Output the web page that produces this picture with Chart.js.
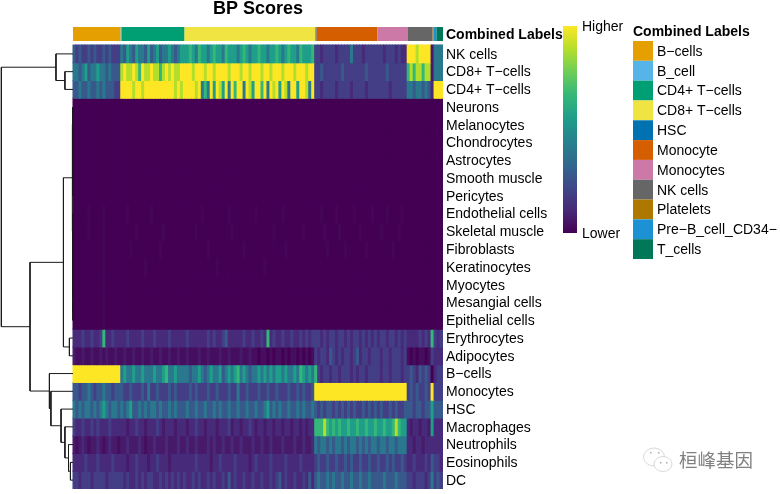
<!DOCTYPE html>
<html>
<head>
<meta charset="utf-8">
<style>
  html, body { margin: 0; padding: 0; background: #fff; }
  #wrap { position: relative; width: 780px; height: 494px; }
</style>
<script src="https://cdn.jsdelivr.net/npm/chart.js@4/dist/chart.umd.js"></script>
</head>
<body>
<div id="wrap"><canvas id="chart" width="780" height="494"></canvas></div>
<script>
const rowLabels = ['NK cells', 'CD8+ T\u2212cells', 'CD4+ T\u2212cells', 'Neurons', 'Melanocytes', 'Chondrocytes', 'Astrocytes', 'Smooth muscle', 'Pericytes', 'Endothelial cells', 'Skeletal muscle', 'Fibroblasts', 'Keratinocytes', 'Myocytes', 'Mesangial cells', 'Epithelial cells', 'Erythrocytes', 'Adipocytes', 'B\u2212cells', 'Monocytes', 'HSC', 'Macrophages', 'Neutrophils', 'Eosinophils', 'DC'];
const groupLabels = ['B\u2212cells', 'B_cell', 'CD4+ T\u2212cells', 'CD8+ T\u2212cells', 'HSC', 'Monocyte', 'Monocytes', 'NK cells', 'Platelets', 'Pre\u2212B_cell_CD34\u2212', 'T_cells'];
const groupSizes = [15.9, 0.3, 21.1, 43.9, 0.35, 20.45, 10.05, 8.4, 0.3, 1, 2.25];
const groupColors = ['#E69F00', '#56B4E9', '#009E73', '#F0E442', '#0072B2', '#D55E00', '#CC79A7', '#666666', '#AD7700', '#1C91D4', '#007756'];

// scores 0-9, one line per cell group: B, CD4, CD8, Mono, Monocytes, NK + pre-B + T
const nkCells = [
  4,3,4,3,3,4,3,4,3,3, 4,3,4,3,3,3,
  5,4,6,5,4,6,5,5,4,6, 4,5,6,4,5,5,6,5,4,5, 6,
  6,6,7,6,5,7,6,6,5,6, 7,6,6,5,7,6,6,6,5,6, 7,6,5,6,6,7,6,6,5,6, 6,7,6,5,6,7,6,6,5,7, 6,6,6,7,
  3,3,2,3,3,3,3,2,3,3, 3,3,5,3,3,3,2,3,3,3, 3,
  3,3,2,3,3,3,2,3,2,2,
  9,9,9,8,9,9,9,9, 1, 5,5,5];
const cd8Cells = [
  5,5,4,5,6,4,5,5,6,5, 5,4,5,4,4,4,
  8,9,8,8,9,8,7,9,8,8, 9,8,8,7,8,9,8,9,8,8, 9,
  9,9,9,8,9,9,9,8,9,9, 8,9,9,9,9,8,9,9,9,8, 9,9,8,9,9,9,8,9,9,8, 9,9,9,8,9,9,9,8,9,9, 9,8,9,9,
  3,3,4,3,3,3,3,3,3,4, 3,3,3,3,3,3,3,4,3,3, 3,
  3,3,3,4,3,3,3,3,3,3,
  7,8,7,8,8,7,8,8, 1, 5,5,5];
const cd4Cells = [
  4,4,5,4,4,5,4,4,5,4, 5,4,4,4,3,3,
  9,9,9,9,8,9,9,8,9,9, 9,9,9,9,9,9,9,9,8,9, 8,
  9,9,9,9,8,9,5,7,5,9, 6,9,8,6,9,5,9,7,9,9, 5,9,8,6,9,9,7,9,5,9, 8,9,6,9,8,5,9,9,6,9, 9,8,5,9,
  3,3,2,3,3,3,3,2,3,3, 3,3,2,3,3,3,3,2,3,3, 3,
  3,3,3,3,2,3,3,3,3,3,
  5,5,4,5,5,4,5,4, 2, 9,9,9];
const neurons = [
  0,0,0,0,0,0,0,0,0,0, 0,0,0,0,0,0,
  0,0,0,0,0,0,0,0,0,0, 0,0,0,0,0,0,0,0,0,0, 0,
  0,0,0,0,0,0,0,0,0,0, 0,0,0,0,0,0,0,0,0,0, 0,0,0,0,0,0,0,0,0,0, 0,0,0,0,0,0,0,0,0,0, 0,0,0,0,
  0,0,0,0,0,0,0,0,0,0, 0,0,0,0,0,0,0,0,0,0, 0,
  0,0,0,0,0,0,0,0,0,0,
  0,0,0,0,0,0,0,0, 0, 0,0,0];
const melanocytes = [
  0,0,0,0,0,0,0,0,0,0, 0,0,0,0,0,0,
  0,0,0,0,0,0,0,0,0,0, 0,0,0,0,0,0,0,0,0,0, 0,
  0,0,0,0,0,0,0,0,0,0, 0,0,0,0,0,0,0,0,0,0, 0,0,0,0,0,0,0,0,0,0, 0,0,0,0,0,0,0,0,0,0, 0,0,0,0,
  0,0,0,0,0,0,0,0,0,0, 0,0,0,0,0,0,0,0,0,0, 0,
  0,0,0,0,0,0,0,0,0,0,
  0,0,0,0,0,0,0,0, 0, 0,0,0];
const chondrocytes = [
  0,0,0,0,0,0,0,0,0,0, 0,0,0,0,0,0,
  0,0,0,0,0,0,0,0,0,0, 0,0,0,0,0,0,0,0,0,0, 0,
  0,0,0,0,0,0,0,0,0,0, 0,0,0,0,0,0,0,0,0,0, 0,0,0,0,0,0,0,0,0,0, 0,0,0,0,0,0,0,0,0,0, 0,0,0,0,
  0,0,0,0,0,0,0,0,0,0, 0,0,0,0,0,0,0,0,0,0, 0,
  0,0,0,0,0,0,0,0,0,0,
  0,0,0,0,0,0,0,0, 0, 0,0,0];
const astrocytes = [
  0,0,0,0,0,0,0,0,0,0, 0,0,0,0,0,0,
  0,0,0,0,0,0,0,0,0,0, 0,0,0,0,0,0,0,0,0,0, 0,
  0,0,0,0,0,0,0,0,0,0, 0,0,0,0,0,0,0,0,0,0, 0,0,0,0,0,0,0,0,0,0, 0,0,0,0,0,0,0,0,0,0, 0,0,0,0,
  0,0,0,0,0,0,0,0,0,0, 0,0,0,0,0,0,0,0,0,0, 0,
  0,0,0,0,0,0,0,0,0,0,
  0,0,0,0,0,0,0,0, 0, 0,0,0];
const smoothMuscle = [
  0,0,0,0,0,0,0,0,0,0, 0,0,0,0,0,0,
  0,0,0,0,0,0,0,0,0,0, 0,0,0,0,0,0,0,0,0,0, 0,
  0,0,0,0,0,0,0,0,0,0, 0,0,0,0,0,0,0,0,0,0, 0,0,0,0,0,0,0,0,0,0, 0,0,0,0,0,0,0,0,0,0, 0,0,0,0,
  0,0,0,0,0,0,0,0,0,0, 0,0,0,0,0,0,0,0,0,0, 0,
  0,0,0,0,0,0,0,0,0,0,
  0,0,0,0,0,0,0,0, 0, 0,0,0];
const pericytes = [
  0,0,0,0,0,0,0,0,0,0, 0,0,0,0,0,0,
  0,0,0,0,0,0,0,0,0,0, 0,0,0,0,0,0,0,0,0,0, 0,
  0,0,0,0,0,0,0,0,0,0, 0,0,0,0,0,0,0,0,0,0, 0,0,0,0,0,0,0,0,0,0, 0,0,0,0,0,0,0,0,0,0, 0,0,0,0,
  0,0,0,0,0,0,0,0,0,0, 0,0,0,0,0,0,0,0,0,0, 0,
  0,0,0,0,0,0,0,0,0,0,
  0,0,0,0,0,0,0,0, 0, 0,0,0];
const endothelialCells = [
  0,0,0,0,0,.2,0,0,0,0, .2,0,0,0,0,0,
  0,0,.2,0,0,0,0,0,0,0, .2,0,0,0,0,0,0,0,0,0, 0,
  0,0,0,0,0,0,.2,0,0,0, 0,0,0,0,0,.2,0,0,0,0, 0,0,0,0,.2,0,0,0,0,0, 0,0,0,.2,0,0,0,0,0,0, 0,0,0,0,
  0,0,.2,0,0,0,0,.2,0,0, 0,0,0,.2,0,0,0,0,0,.2, 0,
  0,0,0,.2,0,0,0,0,.2,0,
  0,0,0,0,0,0,0,0, 0, 0,0,0];
const skeletalMuscle = [
  0,0,0,0,0,.2,0,0,0,0, .2,0,0,0,0,0,
  0,0,0,0,0,.2,0,0,0,0, 0,0,0,0,.2,0,0,0,0,0, 0,
  0,0,0,0,.2,0,0,0,0,0, 0,0,0,0,0,0,.2,0,0,0, 0,0,0,0,0,0,0,0,0,0, .2,0,0,0,0,0,0,0,0,0, .2,0,0,0,
  0,0,0,.2,0,0,0,0,.2,0, 0,0,0,0,0,.2,0,0,0,0, 0,
  0,.2,0,0,0,0,0,.2,0,0,
  0,0,0,0,0,0,0,0, 0, 0,0,0];
const fibroblasts = [
  0,0,0,0,0,0,0,0,0,0, .2,0,0,0,0,0,
  0,0,0,.2,0,0,0,0,0,0, 0,0,0,.2,0,0,0,0,0,0, 0,
  0,0,0,0,0,0,0,0,.2,0, 0,0,0,0,0,0,0,0,0,0, .2,0,0,0,0,0,0,0,0,0, 0,0,0,0,.2,0,0,0,0,0, 0,0,0,0,
  0,0,0,0,.2,0,0,0,0,0, .2,0,0,0,0,0,0,.2,0,0, 0,
  0,0,0,0,0,.2,0,0,0,0,
  0,0,0,0,0,0,0,0, 0, 0,0,0];
const keratinocytes = [
  0,0,0,0,0,0,0,0,0,0, .2,0,0,0,0,0,
  0,0,0,0,0,0,0,0,.2,0, 0,0,0,0,0,0,0,0,0,0, 0,
  0,0,0,0,0,0,0,0,0,0, 0,.2,0,0,0,0,0,0,0,0, 0,0,0,0,0,0,0,.2,0,0, 0,0,0,0,0,0,0,0,0,0, 0,0,0,0,
  0,0,0,0,0,0,0,0,0,0, 0,0,0,0,0,0,0,0,0,0, 0,
  0,0,0,0,0,0,0,0,0,0,
  0,0,0,0,0,0,0,0, 0, 0,0,0];
const myocytes = [
  0,0,0,0,0,0,0,0,0,0, .2,0,0,0,0,0,
  0,0,0,0,0,0,0,0,0,0, 0,0,0,0,0,0,0,0,0,0, 0,
  0,0,0,0,0,0,0,0,0,0, 0,0,0,0,0,0,0,0,0,0, 0,0,0,0,0,0,0,0,0,0, 0,0,0,0,0,0,0,0,0,0, 0,0,0,0,
  0,0,0,0,0,0,0,0,0,0, 0,0,0,0,0,0,0,0,0,0, 0,
  0,0,0,0,0,0,0,0,0,0,
  0,0,0,0,0,0,0,0, 0, 0,0,0];
const mesangialCells = [
  0,0,0,0,0,0,0,0,0,0, .2,0,0,0,0,0,
  0,0,0,0,0,0,0,0,0,0, 0,0,0,0,0,0,0,0,0,0, 0,
  0,0,0,0,0,0,0,0,0,0, 0,0,0,0,0,0,0,0,0,0, 0,0,0,0,0,0,0,0,0,0, 0,0,0,0,0,0,0,0,0,0, 0,0,0,0,
  0,0,0,0,0,0,0,0,0,0, 0,0,0,0,0,0,0,0,0,0, 0,
  0,0,0,0,0,0,0,0,0,0,
  0,0,0,0,0,0,0,0, 0, 0,0,0];
const epithelialCells = [
  0,0,0,0,0,0,0,0,0,0, .2,0,0,0,0,0,
  0,0,0,0,0,0,0,0,0,0, 0,0,0,0,0,0,0,0,0,0, 0,
  0,0,0,0,0,0,0,0,0,0, 0,0,0,0,0,0,0,0,0,0, 0,0,0,0,0,0,0,0,0,0, 0,0,0,0,0,0,0,0,0,0, 0,0,0,0,
  0,0,0,0,0,0,0,0,0,0, 0,0,0,0,0,0,0,0,0,0, 0,
  0,0,0,0,0,0,0,0,0,0,
  0,0,0,0,0,0,0,0, 0, 0,0,0];
const erythrocytes = [
  2,2,2,3,2,2,3,2,2,3, 7,2,2,3,2,2,
  2,2,3,2,2,2,2,3,2,2, 2,3,2,2,2,2,3,2,2,2, 2,
  2,3,2,2,2,2,2,2,3,2, 3,2,2,3,4,2,2,2,2,2, 3,2,2,3,2,2,3,2,7,2, 3,2,2,3,2,2,3,2,2,3, 2,3,2,3,
  3,3,2,3,2,3,3,2,3,3, 2,3,2,3,3,2,3,2,3,2, 3,
  2,3,3,2,3,3,2,3,2,3,
  2,2,2,2,3,2,3,2, 7, 3,2,3];
const adipocytes = [
  1,.5,.5,1,.5,.5,1,.5,.5,1, .5,1,.5,.5,1,.5,
  .5,1,.5,.5,1,.5,.5,1,.5,.5, 1,.5,.5,1,.5,.5,1,.5,.5,1, .5,
  .5,1,.5,.5,.5,1,.5,.5,1,.5, .5,.5,1,.5,.5,1,.5,.5,.5,1, .5,.5,1,.5,.5,0,.5,.5,0,.5, 0,.5,.5,0,.5,0,.5,.5,0,.5, 0,.5,0,.5,
  3,2,3,3,2,4,3,2,3,2, 3,3,2,3,4,2,3,3,2,3, 3,
  3,2,3,3,2,3,3,3,2,3,
  .5,0,.5,0,.5,.5,0,.5, 3, 2,2,2];
const bCells = [
  9,9,9,9,9,9,9,9,9,9, 9,9,9,9,9,9,
  5,6,5,5,6,5,5,6,5,5, 5,6,5,5,6,7,5,5,6,5, 5,
  5,5,4,5,5,6,5,4,5,6, 5,5,6,4,5,6,5,6,7,5, 6,5,4,5,5,6,5,6,5,6, 5,6,6,5,6,5,5,6,5,7, 6,5,6,5,
  7,3,2,3,3,2,3,3,2,3, 3,3,2,3,2,3,3,2,3,3, 3,
  3,2,3,3,2,3,3,3,2,3,
  3,4,3,2,4,3,4,3, 0, 2,3,3];
const monocytes = [
  4,4,3,4,4,5,4,3,4,4, 5,4,4,3,4,4,
  4,3,3,4,3,3,3,4,3,5, 3,3,4,3,3,3,4,3,4,3, 3,
  3,3,4,3,4,3,3,3,4,3, 3,4,3,3,3,4,3,3,5,3, 3,4,3,3,3,4,3,3,4,3, 3,4,3,3,3,4,3,3,4,3, 4,3,3,4,
  9,9,9,9,9,9,9,9,9,9, 9,9,9,9,9,9,9,9,9,9, 9,
  9,9,9,9,9,9,9,9,9,9,
  3,4,3,4,3,3,4,3, 9, 3,3,3];
const hsc = [
  5,4,5,4,5,5,4,5,4,5, 6,5,4,5,5,4,
  5,4,5,6,4,4,5,4,5,4, 5,5,4,5,4,4,5,4,5,4, 4,
  4,5,4,4,5,4,4,5,4,4, 5,4,5,4,4,5,4,4,5,4, 4,5,4,4,5,4,4,5,6,4, 5,4,5,4,4,5,4,4,5,4, 5,4,4,5,
  4,3,4,3,4,4,3,4,3,4, 3,4,3,4,3,3,4,3,4,3, 4,
  3,4,3,3,4,3,4,3,3,4,
  4,4,3,4,4,3,4,4, 6, 4,4,4];
const macrophages = [
  3,2,2,3,2,2,3,2,3,2, 2,2,3,2,2,2,
  2,2,1,2,2,3,2,2,1,2, 2,2,3,2,1,2,2,2,1,2, 2,
  2,1,2,2,3,2,2,1,2,2, 2,1,2,2,2,3,1,2,2,1, 2,2,3,2,1,2,2,1,2,2, 1,2,2,1,2,2,1,2,2,1, 2,1,2,2,
  7,7,7,8,7,6,7,6,7,6, 6,7,6,6,7,6,6,7,6,6, 7,
  6,6,7,6,6,7,8,7,6,6,
  2,1,2,2,1,2,2,1, 6, 2,2,2];
const neutrophils = [
  1,.5,1,2,1,.5,1,1,2,1, .5,1,2,1,1,.5,
  1,1,2,1,1,1,2,1,.5,1, 1,2,1,1,1,2,1,1,1,2, 1,
  1,2,1,1,2,1,1,1,2,1, 2,1,1,2,1,1,2,1,1,2, 1,1,1,2,1,1,2,1,1,2, 1,1,1,2,1,1,1,2,1,1, 2,1,1,2,
  5,4,5,5,4,5,4,5,5,4, 5,4,5,5,4,5,4,5,4,5, 5,
  4,5,5,4,5,5,4,5,5,5,
  2,2,1,2,2,1,2,2, 2, 2,2,2];
const eosinophils = [
  2,2,2,2,3,2,2,2,3,2, 2,2,2,3,2,2,
  2,2,1,2,2,3,2,2,2,1, 2,2,3,2,2,2,1,2,2,2, 2,
  2,2,2,2,3,2,2,2,2,1, 2,2,3,2,2,2,2,3,2,2, 2,2,1,2,3,2,2,2,2,3, 2,2,2,2,3,2,2,2,2,3, 2,2,2,2,
  3,4,3,3,4,3,3,4,3,3, 4,3,4,3,3,4,3,3,4,3, 3,
  4,3,3,4,3,4,3,3,4,3,
  2,2,3,2,2,2,3,2, 4, 3,3,2];
const dc = [
  3,3,2,3,3,3,2,3,3,3, 3,2,3,3,3,3,
  3,2,3,2,2,3,2,3,2,3, 3,2,2,3,2,3,2,3,2,3, 2,
  3,2,2,3,2,3,2,2,3,2, 3,2,2,3,2,4,2,3,2,2, 3,2,2,3,2,2,3,2,2,3, 2,3,4,2,3,2,2,3,2,2, 3,2,4,2,
  4,5,4,4,5,4,5,4,4,5, 4,4,5,4,4,5,4,4,5,4, 4,
  4,4,5,4,4,4,5,4,4,4,
  3,3,2,3,3,3,2,3, 5, 3,4,3];
const scoreRows = [nkCells, cd8Cells, cd4Cells, neurons, melanocytes, chondrocytes, astrocytes, smoothMuscle, pericytes, endothelialCells, skeletalMuscle, fibroblasts, keratinocytes, myocytes, mesangialCells, epithelialCells, erythrocytes, adipocytes, bCells, monocytes, hsc, macrophages, neutrophils, eosinophils, dc];

// row dendrogram, hclust style: negative = row number, positive = earlier merge
const mergeLeft = [-24, -23, -22, -21, -20, -19, -17, -15, -14, -13, -12, -11, -10, -8, -7, -6, -5, -4, 13, 19, 20, -2, -1, 23];
const mergeRight = [-25, 1, 2, 3, 4, 5, -18, -16, 8, 9, 10, 11, 12, -9, 14, 15, 16, 17, 18, 7, 6, -3, 22, 21];
const mergeHeight = [0.85, 1.5, 2.7, 4.0, 7.4, 7.9, 1.2, 0.05, 0.07, 0.09, 0.1, 0.12, 0.15, 0.05, 0.07, 0.09, 0.11, 0.14, 0.25, 3.2, 14.4, 2.7, 5.7, 24];

// colours of scores 0-9, taken along the viridis bar
const binColors = ['#440154', '#471a6a', '#482a7b', '#433e85', '#38598c', '#2a788e', '#1f9e89', '#35b779', '#b4de2c', '#fde725'];
const viridisStops = ['#440154', '#482878', '#3e4989', '#31688e', '#26828e', '#1f9e89', '#35b779', '#6dcd59', '#b4de2c', '#fde725'];

const FONT = '"Liberation Sans", Arial, sans-serif';
const ANNOT_ROW = -0.62;

const rgbOf = (hex) => [1, 3, 5].map((i) => parseInt(hex.slice(i, i + 2), 16));
const scoreColor = (v) => {
    const lo = Math.floor(v);
    const hi = Math.min(lo + 1, binColors.length - 1);
    const a = rgbOf(binColors[lo]);
    const b = rgbOf(binColors[hi]);
    const mix = a.map((c, i) => Math.round(c + (b[i] - c) * (v - lo)));
    return `rgb(${mix.join(',')})`;
};

const datasets = [];

// dendrogram first so it is computed from leaves upward
const nodes = [];
const nodePos = (id) => id < 0 ? {y: -id - 0.5, h: 0} : nodes[id - 1];
mergeLeft.forEach((left, i) => {
    const a = nodePos(left);
    const b = nodePos(mergeRight[i]);
    const h = mergeHeight[i];
    nodes.push({y: (a.y + b.y) / 2, h: h});
    datasets.push({
        type: 'line',
        data: [{x: -a.h, y: a.y}, {x: -h, y: a.y}, {x: -h, y: b.y}, {x: -b.h, y: b.y}],
        borderColor: '#1a1a1a',
        borderWidth: 1,
        pointRadius: 0,
        tension: 0,
        order: 0,
    });
});

// annotation strip
let groupStart = 0;
groupSizes.forEach((size, i) => {
    datasets.push({
        type: 'line',
        data: [{x: groupStart, y: ANNOT_ROW}, {x: groupStart + size, y: ANNOT_ROW}],
        borderColor: groupColors[i],
        borderWidth: 14,
        borderCapStyle: 'butt',
        pointRadius: 0,
        order: 1,
    });
    groupStart += size;
});

// heatmap rows as floating bars
scoreRows.forEach((values, r) => {
    datasets.push({
        type: 'bar',
        label: rowLabels[r],
        data: values.map((v, i) => ({x: i + 0.5, y: [r, r + 1]})),
        backgroundColor: values.map(scoreColor),
        borderWidth: 0,
        inflateAmount: 0.5,
        grouped: false,
        barPercentage: 1,
        categoryPercentage: 1,
        order: 2,
    });
});

const extras = {
    id: 'extras',
    afterDraw(chart) {
        const ctx = chart.ctx;
        ctx.save();
        ctx.textBaseline = 'middle';
        ctx.textAlign = 'left';

        ctx.fillStyle = '#000';
        ctx.font = 'bold 18px ' + FONT;
        ctx.textAlign = 'center';
        ctx.fillText('BP Scores', 258, 9.5);
        ctx.textAlign = 'left';

        // colour bar
        const grad = ctx.createLinearGradient(0, 233, 0, 26);
        viridisStops.forEach((c, i) => grad.addColorStop(i / (viridisStops.length - 1), c));
        ctx.fillStyle = grad;
        ctx.fillRect(563, 26, 14, 207);
        ctx.fillStyle = '#000';
        ctx.font = '14px ' + FONT;
        ctx.fillText('Higher', 582, 27);
        ctx.fillText('Lower', 582, 234);

        // annotation legend
        ctx.font = 'bold 14px ' + FONT;
        ctx.fillText('Combined Labels', 633, 32);
        ctx.font = '14px ' + FONT;
        groupLabels.forEach((label, i) => {
            const top = 41 + i * 19.82;
            ctx.fillStyle = groupColors[i];
            ctx.fillRect(633, top, 20, 19.82);
            ctx.fillStyle = '#000';
            ctx.fillText(label, 657, top + 11);
        });

        // watermark
        ctx.strokeStyle = '#cfcfcf';
        ctx.lineWidth = 0.8;
        ctx.beginPath();
        ctx.ellipse(654, 457, 10.5, 9, 0, 0, Math.PI * 2);
        ctx.stroke();
        ctx.fillStyle = '#fff';
        ctx.beginPath();
        ctx.ellipse(663, 464, 9, 7.5, 0, 0, Math.PI * 2);
        ctx.fill();
        ctx.stroke();
        ctx.fillStyle = '#aaa';
        [[650, 452], [658, 452], [660, 462], [666, 462]].forEach(([x, y]) => ctx.fillRect(x, y, 1.5, 1.5));
        ctx.fillStyle = '#808080';
        ctx.font = '18.5px "Noto Sans CJK SC", sans-serif';
        ctx.fillText('\u6853\u5cf0\u57fa\u56e0', 679, 460);
        ctx.restore();
    },
};

new Chart(document.getElementById('chart'), {
    type: 'bar',
    data: {datasets: datasets},
    plugins: [extras],
    options: {
        responsive: false,
        animation: false,
        layout: {padding: {top: 27, bottom: 5, left: 0, right: 0}},
        plugins: {legend: {display: false}, tooltip: {enabled: false}},
        scales: {
            x: {
                type: 'linear',
                offset: false,
                min: -24.46,
                max: 124,
                display: false,
            },
            y: {
                type: 'linear',
                position: 'right',
                reverse: true,
                min: -1.014,
                max: 25,
                grid: {display: false, drawTicks: false},
                border: {display: false},
                afterBuildTicks: (scale) => {
                    // nudged a little below the row centre, as in the reference
                    scale.ticks = [{value: ANNOT_ROW + 0.07}].concat(rowLabels.map((l, i) => ({value: i + 0.55})));
                },
                afterFit: (scale) => {
                    scale.width = 337;
                    scale.paddingTop = 0;
                    scale.paddingBottom = 0;
                },
                ticks: {
                    autoSkip: false,
                    maxRotation: 0,
                    padding: 3,
                    color: '#000',
                    font: (c) => ({family: FONT, size: 14, weight: c.index === 0 ? 'bold' : 'normal'}),
                    callback: (value, index) => index === 0 ? 'Combined Labels' : rowLabels[index - 1],
                },
            },
        },
    },
});
</script>
</body>
</html>
